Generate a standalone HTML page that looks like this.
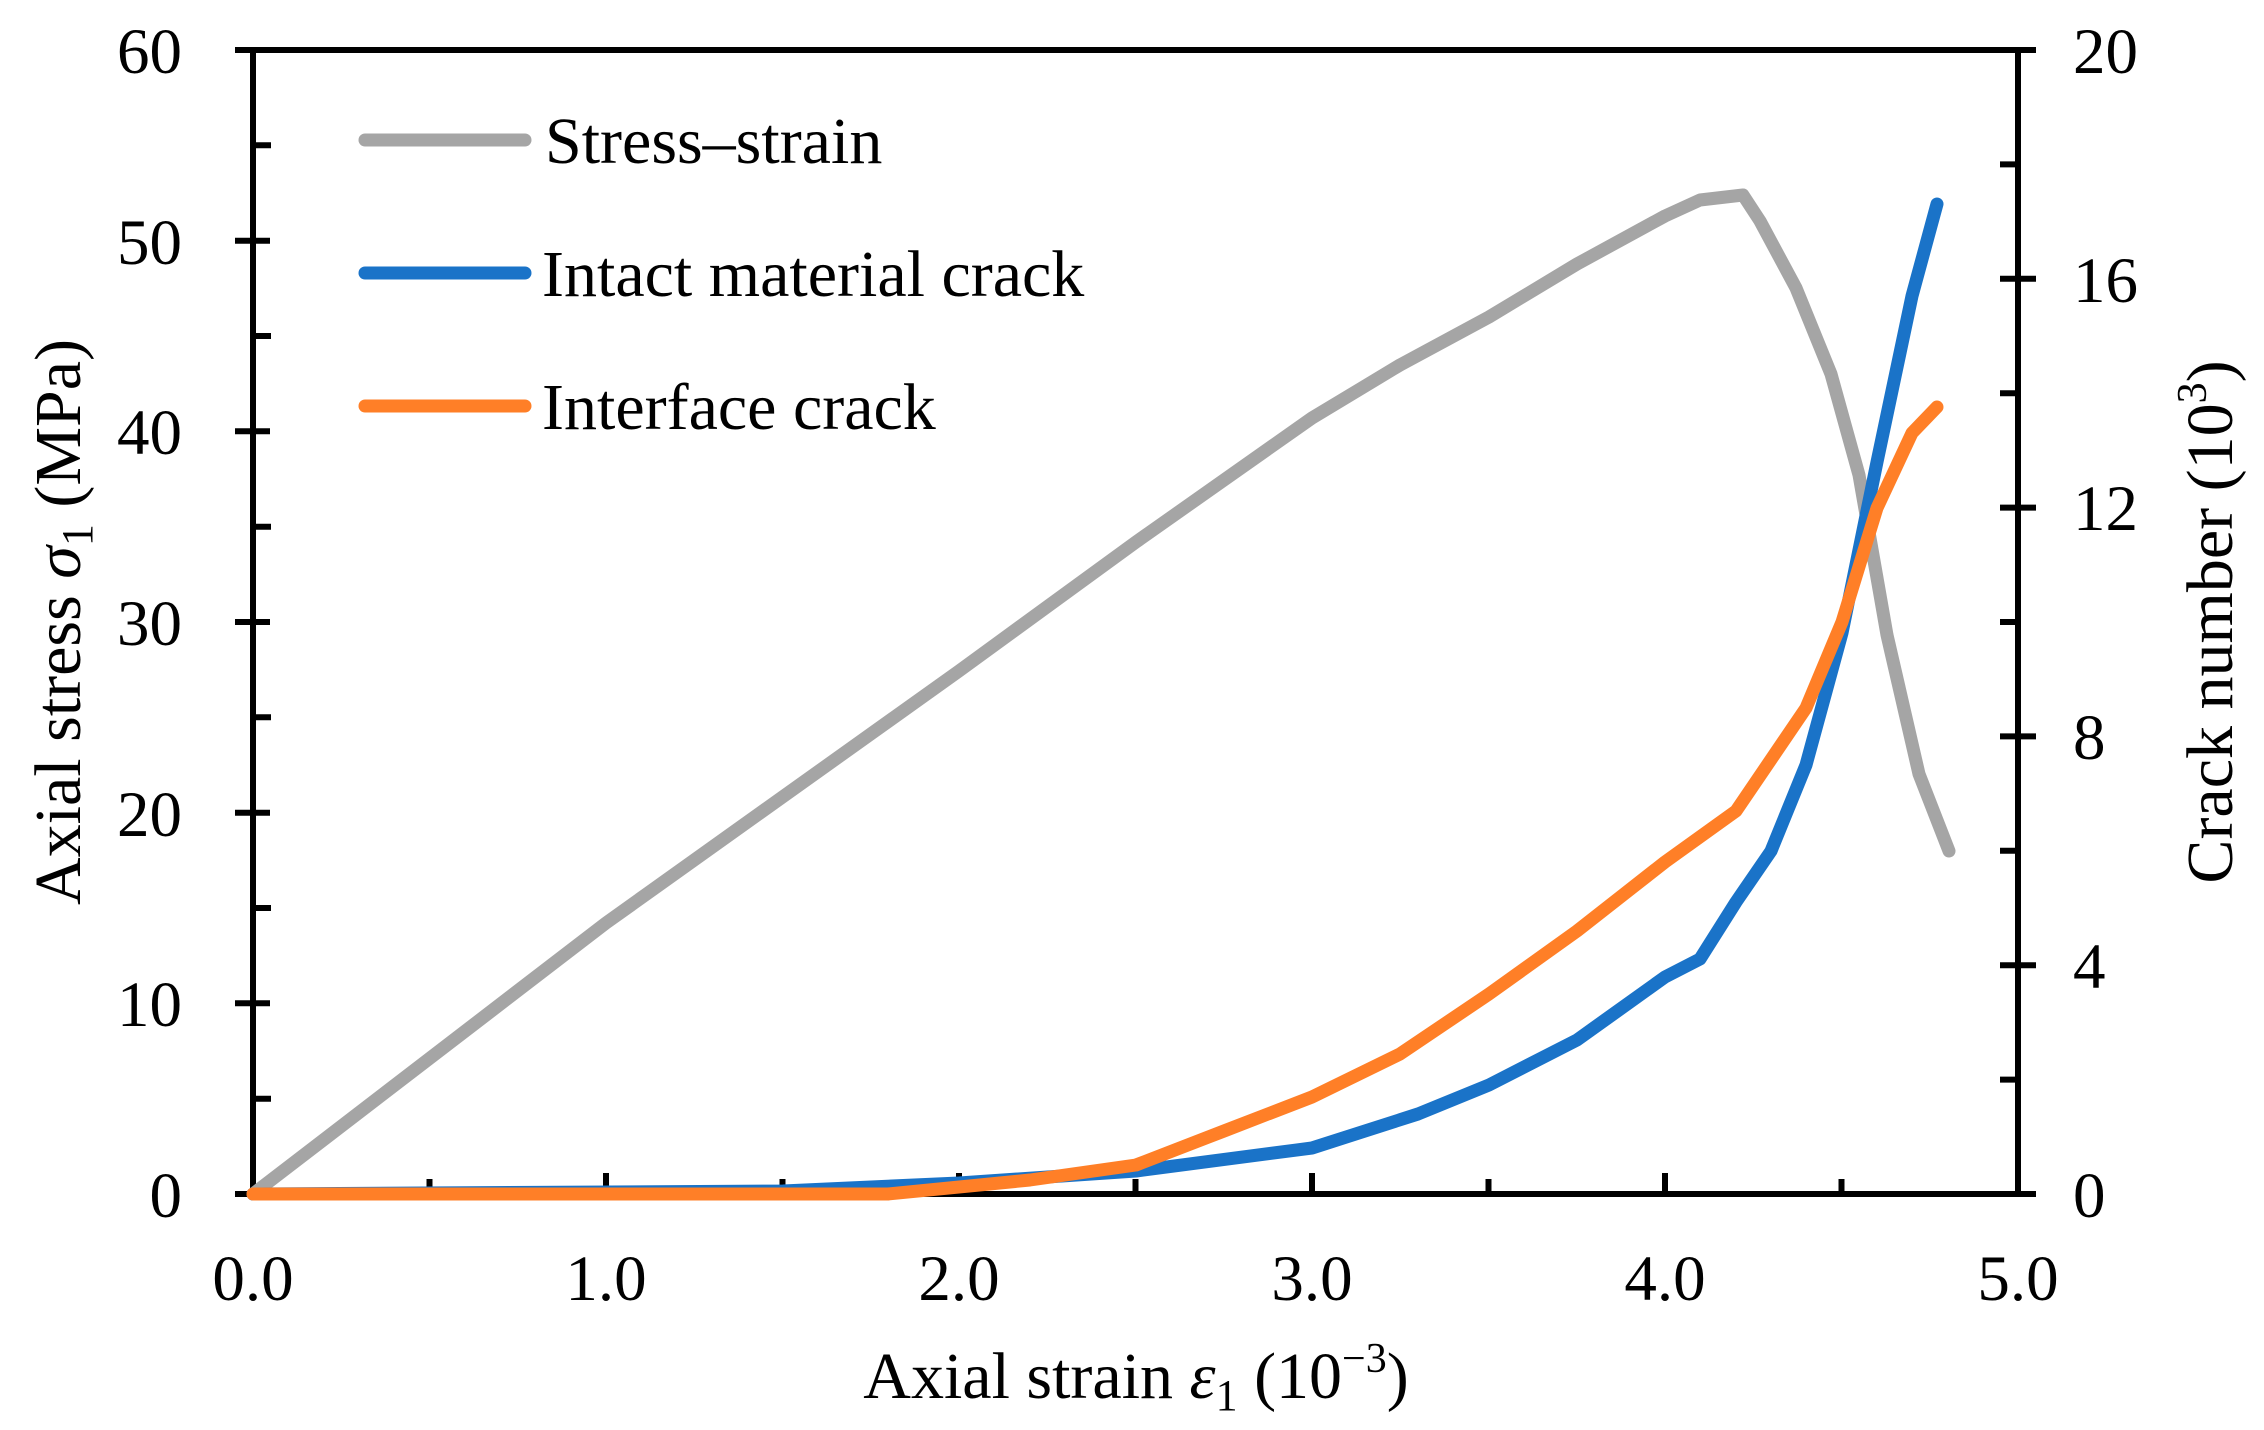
<!DOCTYPE html>
<html><head><meta charset="utf-8"><style>html,body{margin:0;padding:0;background:#fff}svg{display:block}</style></head>
<body>
<svg width="2264" height="1430" viewBox="0 0 2264 1430" xmlns="http://www.w3.org/2000/svg" font-family="Liberation Serif, serif" fill="#000">
<g stroke="#000" stroke-width="6" fill="none">
<rect x="253" y="50" width="1765" height="1144"/>
<path d="M235 50H270M235 240.7H270M235 431.3H270M235 622H270M235 812.7H270M235 1003.3H270M235 1194H270"/>
<path d="M253 145.3H271M253 336H271M253 526.7H271M253 717.3H271M253 908H271M253 1098.7H271"/>
<path d="M2000 50H2036M2000 278.8H2036M2000 507.6H2036M2000 736.4H2036M2000 965.2H2036M2000 1194H2036"/>
<path d="M2000 164.4H2018M2000 393.2H2018M2000 622H2018M2000 850.8H2018M2000 1079.6H2018"/>
<path d="M606 1194V1173M959 1194V1173M1312 1194V1173M1665 1194V1173"/>
<path d="M429.5 1194V1179M782.5 1194V1179M1135.5 1194V1179M1488.5 1194V1179M1841.5 1194V1179"/>
</g>
<g fill="none" stroke-width="13" stroke-linejoin="round" stroke-linecap="round">
<polyline stroke="#A5A5A5" points="253,1194 606,923 959,671 1136,542 1312,418 1400,365 1489,317 1577,264 1665,216 1700,200 1743,195 1760,221 1796,288 1831,374 1859,475 1887,635 1919,774 1949,851"/>
<polyline stroke="#1A73C8" points="253,1194 783,1191 959,1183 1136,1171 1312,1148 1418,1114 1489,1085 1577,1040 1665,977 1700,959 1736,902 1771,851 1806,765 1842,633 1877,462 1912,296 1937,204"/>
<polyline stroke="#FF7F27" points="253,1194 888,1194 1030,1180 1136,1165 1224,1131 1312,1097 1400,1054 1489,994 1577,931 1665,862 1736,811 1806,708 1842,622 1877,508 1912,433 1937,407"/>
<line x1="365" y1="140" x2="525" y2="140" stroke="#A5A5A5"/>
<line x1="365" y1="273" x2="525" y2="273" stroke="#1A73C8"/>
<line x1="365" y1="406" x2="525" y2="406" stroke="#FF7F27"/>
</g>
<g font-size="66">
<text x="545" y="163">Stress–strain</text>
<text x="542" y="296">Intact material crack</text>
<text x="542" y="429">Interface crack</text>
</g>
<g font-size="65" text-anchor="end">
<text x="182" y="73">60</text><text x="182" y="264">50</text><text x="182" y="454">40</text>
<text x="182" y="645">30</text><text x="182" y="836">20</text><text x="182" y="1026">10</text><text x="182" y="1217">0</text>
</g>
<g font-size="65">
<text x="2073" y="73">20</text><text x="2073" y="302">16</text><text x="2073" y="530">12</text>
<text x="2073" y="759">8</text><text x="2073" y="988">4</text><text x="2073" y="1217">0</text>
</g>
<g font-size="65" text-anchor="middle">
<text x="253" y="1300">0.0</text><text x="606" y="1300">1.0</text><text x="959" y="1300">2.0</text>
<text x="1312" y="1300">3.0</text><text x="1665" y="1300">4.0</text><text x="2018" y="1300">5.0</text>
</g>
<text x="1136" y="1398" font-size="66" text-anchor="middle">Axial strain <tspan font-style="italic">ε</tspan><tspan font-size="44" dy="12">1</tspan><tspan dy="-12"> (10</tspan><tspan font-size="42" dy="-26">−3</tspan><tspan dy="26">)</tspan></text>
<text transform="translate(80,622) rotate(-90)" font-size="66" text-anchor="middle">Axial stress <tspan font-style="italic">σ</tspan><tspan font-size="44" dy="12">1</tspan><tspan dy="-12"> (MPa)</tspan></text>
<text transform="translate(2232,622) rotate(-90)" font-size="66" text-anchor="middle">Crack number (10<tspan font-size="42" dy="-26">3</tspan><tspan dy="26">)</tspan></text>
</svg>
</body></html>
